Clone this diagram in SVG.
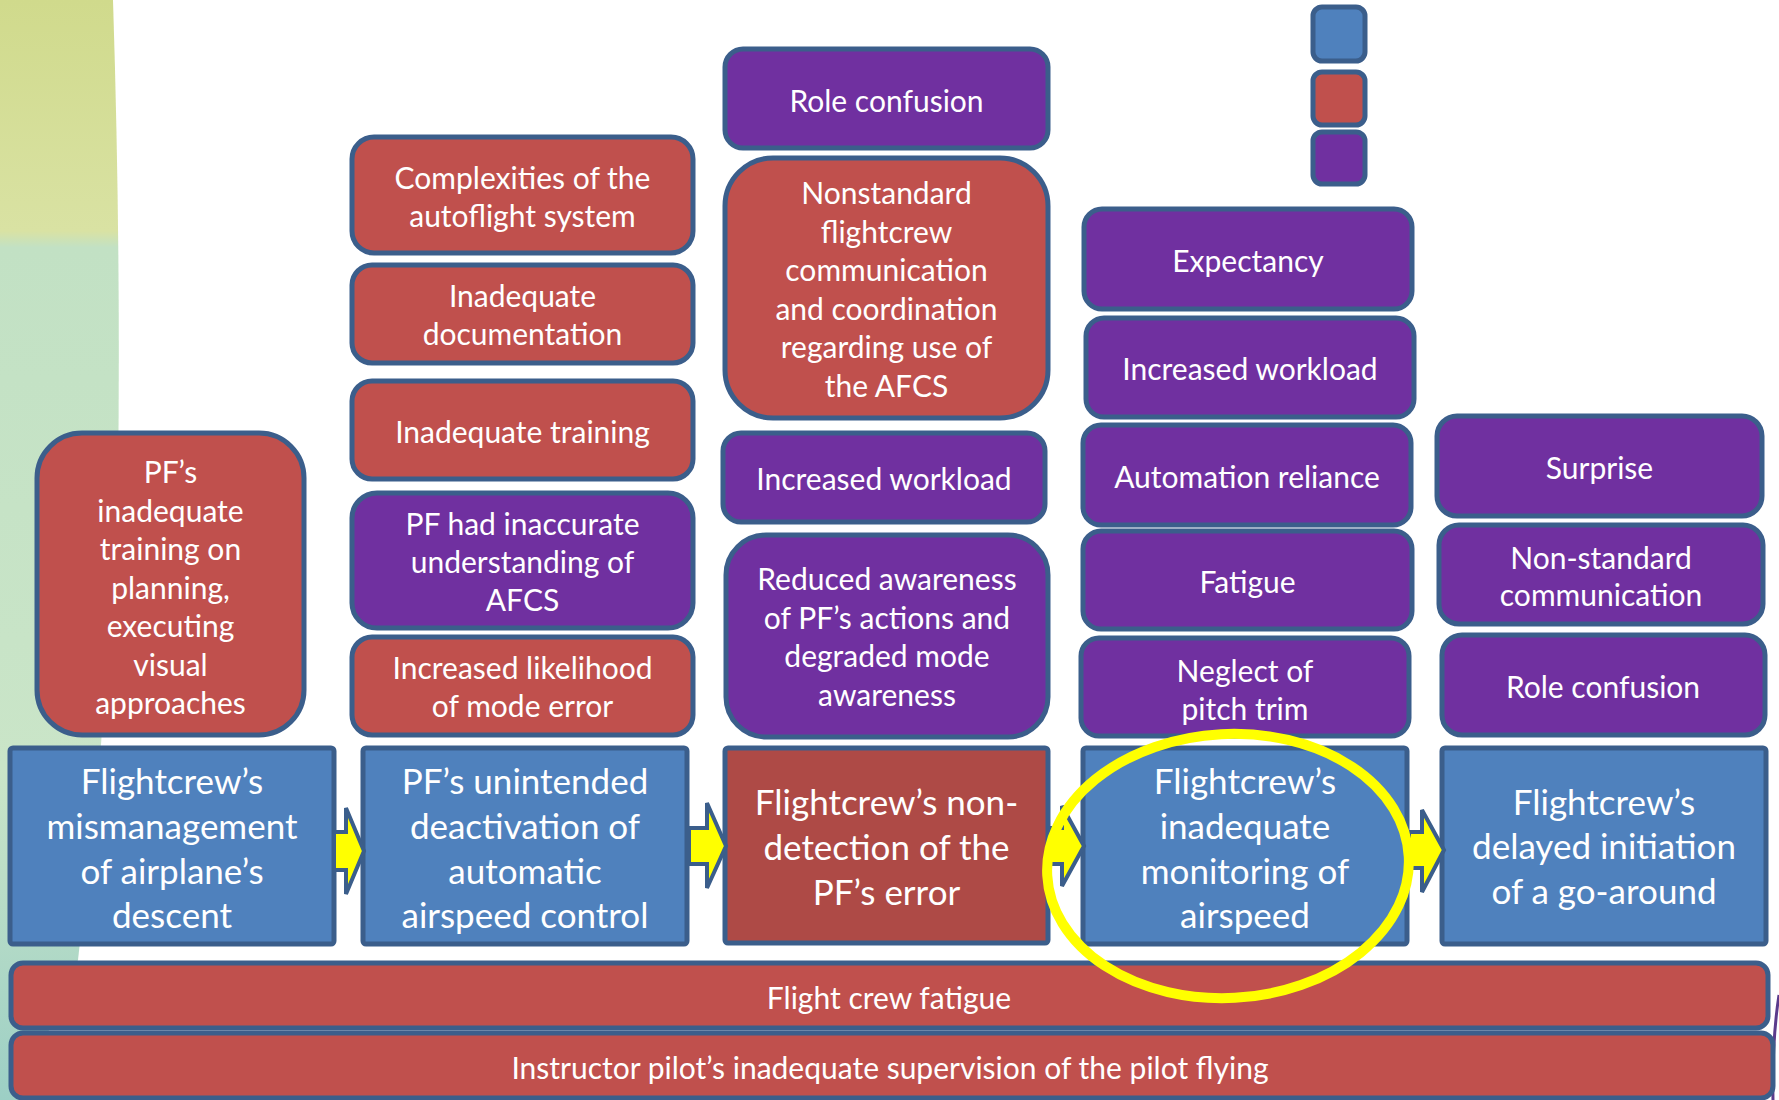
<svg xmlns="http://www.w3.org/2000/svg" width="1779" height="1100" viewBox="0 0 1779 1100">
<defs>
<linearGradient id="bg" x1="0" y1="0" x2="0" y2="1">
<stop offset="0" stop-color="#d0da8c"/>
<stop offset="0.21" stop-color="#d9e2a3"/>
<stop offset="0.225" stop-color="#c2e1c4"/>
<stop offset="0.7" stop-color="#cae5c8"/>
<stop offset="1" stop-color="#9ccfc5"/>
</linearGradient>
<style>
.b{stroke:#3b5e8b;stroke-width:5}
.red{fill:#c0504d}
.pur{fill:#7030a0}
.blu{fill:#4f81bd}
.dred{fill:#ae4a46}
text{font-family:Lato,"Liberation Sans",sans-serif;fill:#ffffff;text-anchor:middle;transform:translate(0px,2px)}
.s{font-size:30px}
.m{font-size:35px}
.arr{fill:#ffff00;stroke:#3b5e8b;stroke-width:4;stroke-linejoin:miter}
</style>
</defs>
<rect width="1779" height="1100" fill="#ffffff"/>
<path d="M0,0 L113,0 Q121,250 118,480 L100,760 L78,960 L20,1100 L0,1100 Z" fill="url(#bg)"/>
<path d="M1779,995 Q1772,1040 1773,1100" fill="none" stroke="#5b3b8c" stroke-width="3"/>

<g id="legend">
<rect class="b blu" x="1313" y="7" width="52" height="54" rx="9"/>
<rect class="b red" x="1313" y="72" width="52" height="53" rx="9"/>
<rect class="b pur" x="1313" y="132" width="52" height="52" rx="9"/>
</g>

<g id="n-pf-training"><rect class="b red" x="37" y="433" width="267" height="302" rx="45"/>
<text class="s"><tspan x="170.5" y="481">PF’s</tspan><tspan x="170.5" y="519.5">inadequate</tspan><tspan x="170.5" y="558">training on</tspan><tspan x="170.5" y="596.5">planning,</tspan><tspan x="170.5" y="635">executing</tspan><tspan x="170.5" y="673.5">visual</tspan><tspan x="170.5" y="712">approaches</tspan></text></g>

<g id="n-complexities"><rect class="b red" x="352" y="137" width="341" height="116" rx="22"/>
<text class="s"><tspan x="522.5" y="187">Complexities of the</tspan><tspan x="522.5" y="225">autoflight system</tspan></text></g>
<g id="n-documentation"><rect class="b red" x="352" y="265" width="341" height="98" rx="20"/>
<text class="s"><tspan x="522.5" y="305">Inadequate</tspan><tspan x="522.5" y="343">documentation</tspan></text></g>
<g id="n-training"><rect class="b red" x="352" y="381" width="341" height="98" rx="20"/>
<text class="s" x="522.5" y="441">Inadequate training</text></g>
<g id="n-understanding"><rect class="b pur" x="352" y="493" width="341" height="135" rx="25"/>
<text class="s"><tspan x="522.5" y="533">PF had inaccurate</tspan><tspan x="522.5" y="571">understanding of</tspan><tspan x="522.5" y="609">AFCS</tspan></text></g>
<g id="n-likelihood"><rect class="b red" x="352" y="637" width="341" height="98" rx="20"/>
<text class="s"><tspan x="522.5" y="677">Increased likelihood</tspan><tspan x="522.5" y="715">of mode error</tspan></text></g>

<g id="n-role1"><rect class="b pur" x="725" y="49" width="323" height="99" rx="18"/>
<text class="s" x="886.5" y="110">Role confusion</text></g>
<g id="n-nonstandard"><rect class="b red" x="725" y="158" width="323" height="260" rx="48"/>
<text class="s"><tspan x="886.5" y="202">Nonstandard</tspan><tspan x="886.5" y="240.5">flightcrew</tspan><tspan x="886.5" y="279">communication</tspan><tspan x="886.5" y="317.5">and coordination</tspan><tspan x="886.5" y="356">regarding use of</tspan><tspan x="886.5" y="394.5">the AFCS</tspan></text></g>
<g id="n-workload1"><rect class="b pur" x="723" y="433" width="322" height="89" rx="18"/>
<text class="s" x="884" y="488">Increased workload</text></g>
<g id="n-awareness"><rect class="b pur" x="726" y="535" width="322" height="202" rx="40"/>
<text class="s"><tspan x="887" y="588">Reduced awareness</tspan><tspan x="887" y="626.5">of PF’s actions and</tspan><tspan x="887" y="665">degraded mode</tspan><tspan x="887" y="703.5">awareness</tspan></text></g>

<g id="n-expectancy"><rect class="b pur" x="1084" y="209" width="328" height="100" rx="18"/>
<text class="s" x="1248" y="270">Expectancy</text></g>
<g id="n-workload2"><rect class="b pur" x="1086" y="318" width="328" height="99" rx="18"/>
<text class="s" x="1250" y="378">Increased workload</text></g>
<g id="n-reliance"><rect class="b pur" x="1083" y="425" width="328" height="100" rx="18"/>
<text class="s" x="1247" y="486">Automation reliance</text></g>
<g id="n-fatigue"><rect class="b pur" x="1083" y="531" width="329" height="98" rx="18"/>
<text class="s" x="1247.5" y="591">Fatigue</text></g>
<g id="n-pitch"><rect class="b pur" x="1081" y="638" width="328" height="98" rx="18"/>
<text class="s"><tspan x="1245" y="680">Neglect of</tspan><tspan x="1245" y="717.5">pitch trim</tspan></text></g>

<g id="n-surprise"><rect class="b pur" x="1437" y="416" width="325" height="100" rx="20"/>
<text class="s" x="1599.5" y="477">Surprise</text></g>
<g id="n-comm"><rect class="b pur" x="1439" y="525" width="324" height="99" rx="20"/>
<text class="s"><tspan x="1601" y="567">Non-standard</tspan><tspan x="1601" y="604">communication</tspan></text></g>
<g id="n-role2"><rect class="b pur" x="1442" y="635" width="323" height="100" rx="20"/>
<text class="s" x="1603" y="696">Role confusion</text></g>

<g id="m-descent"><rect class="b blu" x="10" y="748" width="324" height="196" rx="3"/>
<text class="m"><tspan x="172" y="792">Flightcrew’s</tspan><tspan x="172" y="837">mismanagement</tspan><tspan x="172" y="882">of airplane’s</tspan><tspan x="172" y="926">descent</tspan></text></g>
<g id="m-deactivation"><rect class="b blu" x="363" y="748" width="324" height="196" rx="3"/>
<text class="m"><tspan x="525" y="792">PF’s unintended</tspan><tspan x="525" y="837">deactivation of</tspan><tspan x="525" y="882">automatic</tspan><tspan x="525" y="926">airspeed control</tspan></text></g>
<g id="m-nondetection"><rect class="b dred" x="725" y="748" width="323" height="195" rx="3"/>
<text class="m"><tspan x="886.5" y="813">Flightcrew’s non-</tspan><tspan x="886.5" y="858">detection of the</tspan><tspan x="886.5" y="903">PF’s error</tspan></text></g>
<g id="m-monitoring"><rect class="b blu" x="1083" y="748" width="324" height="196" rx="3"/>
<text class="m"><tspan x="1245" y="792">Flightcrew’s</tspan><tspan x="1245" y="837">inadequate</tspan><tspan x="1245" y="882">monitoring of</tspan><tspan x="1245" y="926">airspeed</tspan></text></g>
<g id="m-goaround"><rect class="b blu" x="1442" y="748" width="324" height="196" rx="3"/>
<text class="m"><tspan x="1604" y="813">Flightcrew’s</tspan><tspan x="1604" y="857">delayed initiation</tspan><tspan x="1604" y="902">of a go-around</tspan></text></g>

<g id="bar-fatigue"><rect class="b red" x="11" y="963" width="1757" height="65" rx="12"/>
<text class="s" x="889" y="1007">Flight crew fatigue</text></g>
<g id="bar-supervision"><rect class="b red" x="11" y="1033" width="1762" height="65" rx="12"/>
<text class="s" x="890" y="1077">Instructor pilot’s inadequate supervision of the pilot flying</text></g>

<g id="connectors">
<polygon class="arr" points="334,832 346,832 346,808 364,851 346,894 346,870 334,870"/>
<polygon class="arr" points="689,828 707,828 707,803 726,846 707,888 707,864 689,864"/>
<polygon class="arr" points="1050,828 1062,828 1062,806 1084,846 1062,886 1062,864 1050,864"/>
<polygon class="arr" points="1409,832 1422,832 1422,810 1444,850 1422,892 1422,868 1409,868"/>
</g>

<g id="highlight">
<ellipse cx="1228" cy="866" rx="181" ry="132" fill="none" stroke="#ffff00" stroke-width="10" transform="rotate(-3 1228 866)"/>
</g>
</svg>
